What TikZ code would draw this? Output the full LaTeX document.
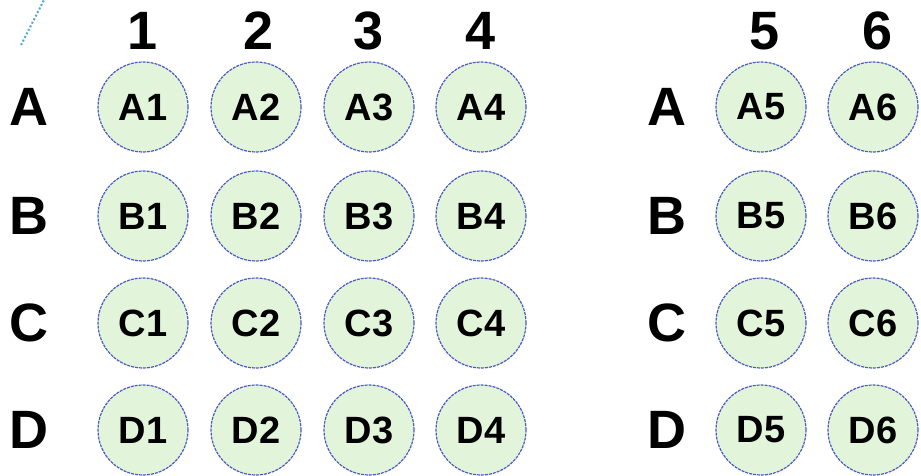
\documentclass[tikz,border=0pt]{standalone}
\usepackage{fontspec}
\setmainfont{Liberation Sans}
\definecolor{wellfill}{HTML}{E2F5DA}
\definecolor{wellline}{HTML}{4A5CC4}
\definecolor{dotcol}{HTML}{55AACC}
\begin{document}
\begin{tikzpicture}[x=1pt,y=-1pt,
  well/.style={circle,minimum size=90pt,inner sep=0pt,fill=wellfill,draw=wellline,
    line width=1.2pt,dash pattern=on 3pt off 1pt,font=\fontsize{38}{42}\selectfont\bfseries},
  hdr/.style={font=\fontsize{54}{60}\selectfont\bfseries,inner sep=0pt}]
\useasboundingbox (0,0) rectangle (921,476);
\fill[white] (0,0) rectangle (921,476);
\coordinate (d1) at (21,45);
\coordinate (d2) at (44,0);
\draw[dotcol,line width=2pt,dotted] (d1) -- (d2);
% column headers
\foreach \n/\x in {1/143,2/259,3/369,4/481,5/765,6/878}
  \node[hdr] (h\n) at (\x,31) {\n};
% row labels and wells
\foreach \r/\y in {A/107,B/216,C/323,D/430}{
  \node[hdr] (L\r) at (29,\y) {\r};
  \node[hdr] (R\r) at (667,\y) {\r};
  \foreach \c/\x in {1/143,2/256,3/369,4/481,5/761,6/873}
    \node[well] (w\r\c) at (\x,\y) {\r\c};
}
\end{tikzpicture}
\end{document}
